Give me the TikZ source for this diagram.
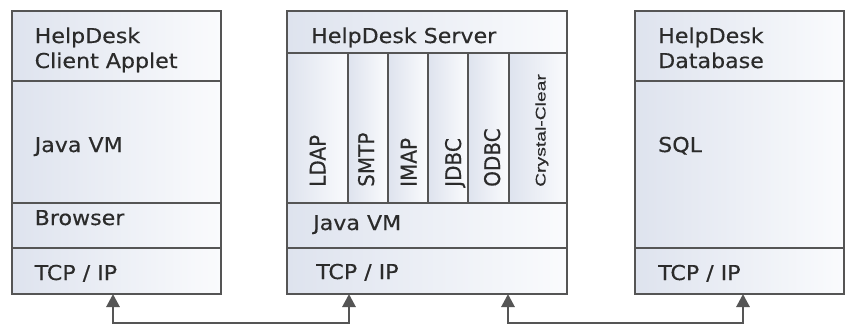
\documentclass[tikz,border=0pt]{standalone}
\usepackage{fontspec}
\setmainfont{DejaVu Sans}[FakeStretch=1.08,FakeBold=0.35]
\newfontfamily\upfont{DejaVu Sans}[FakeBold=0.35]
\newfontfamily\narrowfont{Liberation Sans}[FakeBold=0.3]
\usetikzlibrary{arrows.meta}
\definecolor{edge}{HTML}{555555}
\definecolor{ink}{HTML}{2B2B2B}
\definecolor{cellL}{HTML}{DEE3EE}
\definecolor{cellR}{HTML}{FAFBFD}
% one layer of a protocol stack: name, x, y (top left), width, height
\newcommand\stackcell[5]{\node[cell, minimum width=#4, minimum height=#5] (#1) at (#2,#3) {};}
\newcommand\vtext[1]{\scalebox{1}[1.08]{\upfont\fontsize{20}{24}\selectfont #1}}
\begin{document}
\begin{tikzpicture}[x=1pt,y=-1pt,
  cell/.style={rectangle, draw=edge, line width=2.2pt, outer sep=0pt, inner sep=0pt,
    anchor=north west, left color=cellL, right color=cellR},
  lbl/.style={anchor=base west, inner sep=0pt, text=ink, font=\fontsize{20.5}{25}\selectfont},
  vlbl/.style={anchor=base west, inner sep=0pt, rotate=90, text=ink},
  link/.style={draw=edge, line width=2.8pt,
    {Triangle[width=13pt,length=13pt]}-{Triangle[width=13pt,length=13pt]}}]
\useasboundingbox[fill=white] (0,0) rectangle (848,327);

% client stack
\stackcell{lhead}{12}{11}{209}{70}
\stackcell{ljvm}{12}{81}{209}{122}
\stackcell{lbrw}{12}{203}{209}{45}
\stackcell{ltcp}{12}{248}{209}{46}
\node[lbl] (t1) at (34.5,43) {HelpDesk};
\node[lbl] (t2) at (34.5,68) {Client Applet};
\node[lbl] (t3) at (34.5,152) {Java VM};
\node[lbl] (t4) at (34.5,225) {Browser};
\node[lbl] (t5) at (34.5,280) {TCP / IP};

% server stack
\stackcell{mhead}{287}{11}{280}{42}
\stackcell{cldap}{287}{53}{61}{150}
\stackcell{csmtp}{348}{53}{40}{150}
\stackcell{cimap}{388}{53}{40}{150}
\stackcell{cjdbc}{428}{53}{40}{150}
\stackcell{codbc}{468}{53}{41}{150}
\stackcell{ccc}{509}{53}{58}{150}
\stackcell{mjvm}{287}{203}{280}{45}
\stackcell{mtcp}{287}{248}{280}{46}
\node[lbl] (s1) at (311,43) {HelpDesk Server};
\node[lbl] (s2) at (313,230) {Java VM};
\node[lbl] (s3) at (316,279) {TCP / IP};
\node[vlbl] (v1) at (325.5,187) {\vtext{LDAP}};
\node[vlbl] (v2) at (374,187) {\vtext{SMTP}};
\node[vlbl] (v3) at (416.5,187) {\vtext{IMAP}};
\node[vlbl] (v4) at (461,187) {\vtext{JDBC}};
\node[vlbl] (v5) at (500,187) {\vtext{ODBC}};
\node[vlbl] (v6) at (545.5,187) {\scalebox{1.38}[1]{\narrowfont\fontsize{14}{16}\selectfont Crystal-Clear}};

% database stack
\stackcell{rhead}{635}{11}{209}{70}
\stackcell{rsql}{635}{81}{209}{167}
\stackcell{rtcp}{635}{248}{209}{46}
\node[lbl] (d1) at (658,43) {HelpDesk};
\node[lbl] (d2) at (658,68) {Database};
\node[lbl] (d3) at (658,152) {SQL};
\node[lbl] (d4) at (658,280) {TCP / IP};

% network links between the TCP/IP layers
\coordinate (k1) at (113,323);
\coordinate (k2) at (349,323);
\coordinate (k3) at (508,323);
\coordinate (k4) at (743,323);
\draw[link] (ltcp.south -| k1) -- (k1) -- (k2) -- (mtcp.south -| k2);
\draw[link] (mtcp.south -| k3) -- (k3) -- (k4) -- (rtcp.south -| k4);
\end{tikzpicture}
\end{document}
